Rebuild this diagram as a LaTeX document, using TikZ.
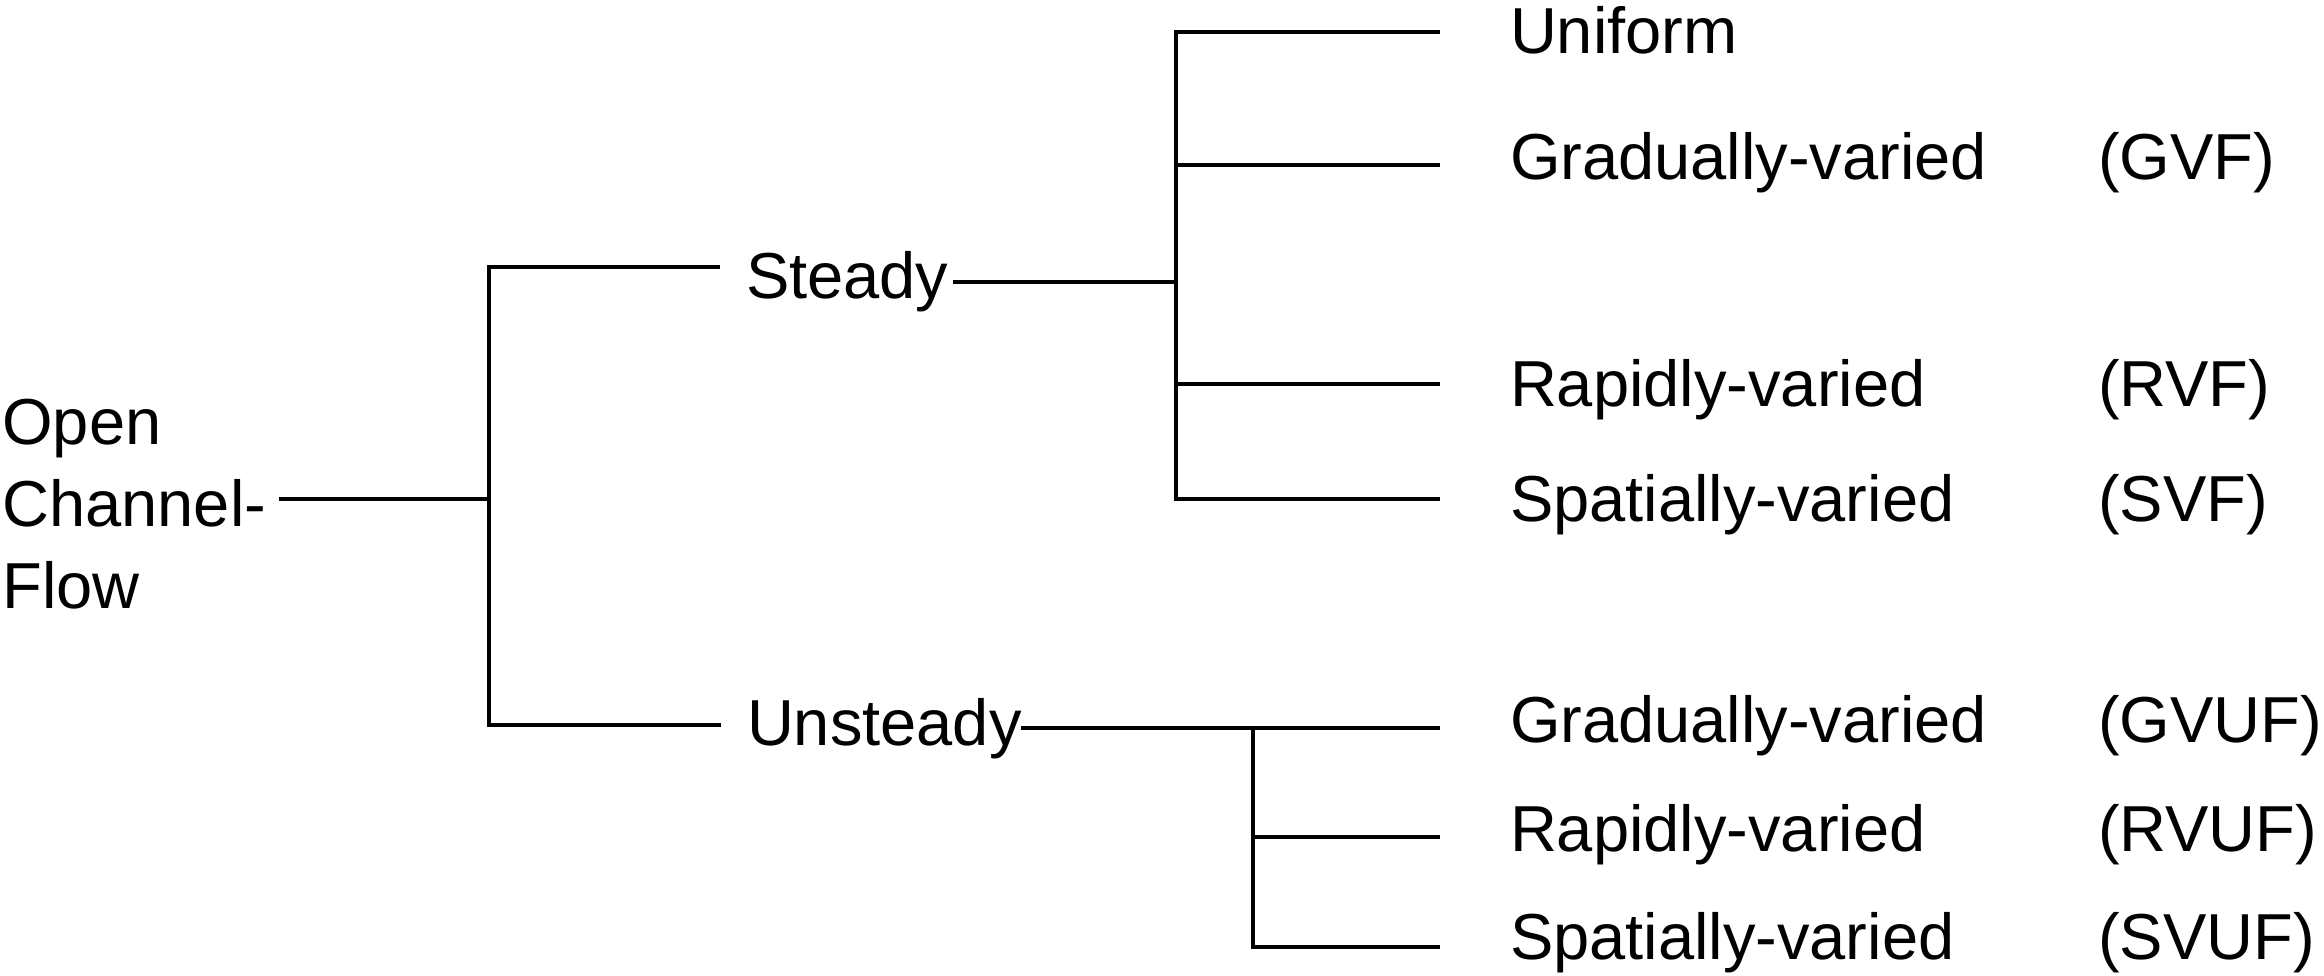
\documentclass[tikz,border=0pt]{standalone}
\usepackage{fontspec}
\setmainfont{Liberation Sans}
\begin{document}
\begin{tikzpicture}[x=0.5pt,y=-0.5pt,
  label/.style={anchor=base west,inner sep=0pt,outer sep=0pt,
                font=\fontsize{32.5}{41}\selectfont},
  branch/.style={line width=2.3pt,line join=miter,black}]
\useasboundingbox (0,0) rectangle (2324,975);

% root label
\node[anchor=west,inner sep=0pt,align=left,
      font=\fontsize{32.5}{41}\selectfont] (root) at (2,504)
      {Open\\Channel-\\Flow};

% second level
\node[label] (steady)   at (746,298) {Steady};
\node[label] (unsteady) at (747,745) {Unsteady};

% leaves
\node[label] (uni)  at (1510,53)  {Uniform};
\node[label] (gvf)  at (1510,179) {Gradually-varied};
\node[label] (rvf)  at (1510,406) {Rapidly-varied};
\node[label] (svf)  at (1510,521) {Spatially-varied};
\node[label] (gvuf) at (1510,742) {Gradually-varied};
\node[label] (rvuf) at (1510,851) {Rapidly-varied};
\node[label] (svuf) at (1510,959) {Spatially-varied};

% abbreviations
\node[label] (gvfA)  at (2098,179) {(GVF)};
\node[label] (rvfA)  at (2098,406) {(RVF)};
\node[label] (svfA)  at (2098,521) {(SVF)};
\node[label] (gvufA) at (2098,742) {(GVUF)};
\node[label] (rvufA) at (2098,851) {(RVUF)};
\node[label] (svufA) at (2098,959) {(SVUF)};

% connector end points
\coordinate (rootOut) at (279,499);
\coordinate (j1) at (489,499);
\coordinate (sIn) at (720,267);
\coordinate (uIn) at (721,725);

\coordinate (steadyOut) at (953,282);
\coordinate (j2) at (1176,282);
\coordinate (uniIn)  at (1440,32);
\coordinate (gvfIn)  at (1440,165);
\coordinate (rvfIn)  at (1440,384);
\coordinate (svfIn)  at (1440,499);

\coordinate (unsteadyOut) at (1021,728);
\coordinate (j3) at (1253,728);
\coordinate (gvufIn) at (1440,728);
\coordinate (rvufIn) at (1440,837);
\coordinate (svufIn) at (1440,947);

% first split
\draw[branch] (rootOut) -- (j1);
\draw[branch] (sIn) -| (j1) |- (uIn);

% steady branches
\draw[branch] (steadyOut) -- (j2);
\draw[branch] (uniIn) -| (j2) |- (svfIn);
\draw[branch] (j2 |- gvfIn) -- (gvfIn);
\draw[branch] (j2 |- rvfIn) -- (rvfIn);

% unsteady branches
\draw[branch] (unsteadyOut) -- (gvufIn);
\draw[branch] (j3) |- (svufIn);
\draw[branch] (j3 |- rvufIn) -- (rvufIn);
\end{tikzpicture}
\end{document}
